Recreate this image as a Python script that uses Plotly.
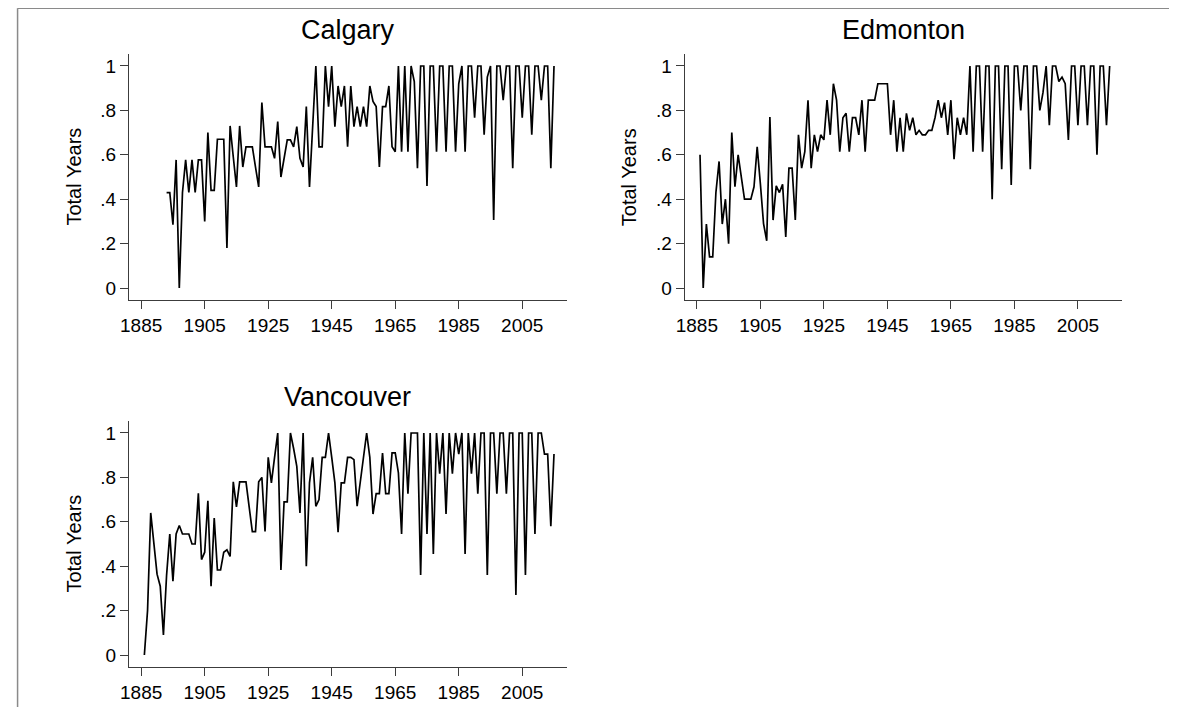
import plotly.graph_objects as go

# page body has an 8px margin, so the figure fills the rest of the window
OX, OY = 8, 8
W, H = 1177 - 2 * OX, 715 - 2 * OY

calgary_years = list(range(1893, 2016))
calgary_vals = [
    0.43, 0.43, 0.285, 0.577, 0.0, 0.43, 0.577, 0.43, 0.577, 0.43,
    0.577, 0.577, 0.3, 0.70, 0.44, 0.44, 0.67, 0.67, 0.67, 0.18,
    0.73, 0.59, 0.455, 0.73, 0.545, 0.636, 0.636, 0.636, 0.545, 0.455,
    0.835, 0.636, 0.636, 0.636, 0.584, 0.75, 0.5, 0.577, 0.667, 0.667,
    0.636, 0.727, 0.584, 0.545, 0.817, 0.455, 0.727, 1.0, 0.636, 0.636,
    1.0, 0.817, 1.0, 0.727, 0.91, 0.817, 0.91, 0.636, 0.91, 0.727,
    0.817, 0.727, 0.817, 0.727, 0.91, 0.84, 0.817, 0.545, 0.817, 0.817,
    0.91, 0.636, 0.614, 1.0, 0.614, 1.0, 0.614, 1.0, 0.93, 0.54,
    1.0, 1.0, 0.46, 1.0, 1.0, 0.614, 1.0, 1.0, 0.614, 1.0,
    1.0, 0.614, 0.92, 1.0, 0.614, 1.0, 1.0, 0.767, 1.0, 1.0,
    0.69, 0.95, 1.0, 0.306, 1.0, 1.0, 0.846, 1.0, 1.0, 0.54,
    1.0, 1.0, 0.767, 1.0, 1.0, 0.69, 1.0, 1.0, 0.846, 1.0,
    1.0, 0.54, 1.0,
]

edmonton_years = list(range(1886, 2016))
edmonton_vals = [
    0.60, 0.0, 0.288, 0.14, 0.14, 0.43, 0.57, 0.288, 0.40, 0.2,
    0.70, 0.456, 0.6, 0.5, 0.4, 0.4, 0.4, 0.456, 0.636, 0.47,
    0.29, 0.213, 0.77, 0.306, 0.46, 0.43, 0.467, 0.23, 0.54, 0.54,
    0.306, 0.69, 0.54, 0.614, 0.846, 0.54, 0.69, 0.614, 0.69, 0.667,
    0.846, 0.69, 0.92, 0.846, 0.614, 0.767, 0.787, 0.614, 0.767, 0.767,
    0.69, 0.846, 0.614, 0.846, 0.846, 0.846, 0.92, 0.92, 0.92, 0.92,
    0.69, 0.846, 0.614, 0.767, 0.614, 0.787, 0.71, 0.767, 0.69, 0.71,
    0.69, 0.69, 0.71, 0.71, 0.767, 0.846, 0.767, 0.835, 0.69, 0.846,
    0.58, 0.767, 0.69, 0.767, 0.69, 1.0, 0.614, 1.0, 1.0, 0.614,
    1.0, 1.0, 0.40, 1.0, 1.0, 0.535, 1.0, 1.0, 0.464, 1.0,
    1.0, 0.8, 1.0, 1.0, 0.535, 1.0, 1.0, 0.8, 0.88, 1.0,
    0.733, 1.0, 1.0, 0.93, 0.95, 0.92, 0.667, 1.0, 1.0, 0.733,
    1.0, 1.0, 0.733, 1.0, 1.0, 0.6, 1.0, 1.0, 0.733, 1.0,
]

vancouver_years = list(range(1886, 2016))
vancouver_vals = [
    0.0, 0.2, 0.64, 0.5, 0.364, 0.31, 0.09, 0.36, 0.545, 0.333,
    0.545, 0.583, 0.545, 0.545, 0.545, 0.5, 0.5, 0.728, 0.43, 0.463,
    0.695, 0.31, 0.617, 0.383, 0.383, 0.463, 0.474, 0.444, 0.78, 0.667,
    0.78, 0.78, 0.78, 0.667, 0.556, 0.556, 0.78, 0.8, 0.556, 0.89,
    0.775, 0.89, 1.0, 0.383, 0.69, 0.69, 1.0, 0.93, 0.85, 0.64,
    1.0, 0.4, 0.775, 0.89, 0.67, 0.7, 0.89, 0.89, 1.0, 0.89,
    0.775, 0.553, 0.775, 0.775, 0.89, 0.89, 0.88, 0.67, 0.775, 0.89,
    1.0, 0.89, 0.635, 0.727, 0.727, 0.91, 0.727, 0.727, 0.91, 0.91,
    0.82, 0.545, 1.0, 0.727, 1.0, 1.0, 1.0, 0.36, 1.0, 0.545,
    1.0, 0.455, 1.0, 0.817, 1.0, 0.635, 1.0, 0.817, 1.0, 0.905,
    1.0, 0.455, 1.0, 0.817, 1.0, 0.727, 1.0, 1.0, 0.36, 1.0,
    1.0, 0.727, 1.0, 1.0, 0.727, 1.0, 1.0, 0.27, 1.0, 1.0,
    0.36, 1.0, 1.0, 0.545, 1.0, 1.0, 0.905, 0.905, 0.58, 0.905,
]

panel_titles = ["Calgary", "Edmonton", "Vancouver"]
y_title = "Total Years"
x_tickvals = [1885, 1905, 1925, 1945, 1965, 1985, 2005]
y_tickvals = [0, 0.2, 0.4, 0.6, 0.8, 1]
y_ticktext = ["0", ".2", ".4", ".6", ".8", "1"]

FONT = "Liberation Sans, Arial, sans-serif"


def fx(px):
    return (px - OX) / W


def fy(py):
    return 1 - (py - OY) / H


# panel plot regions in window pixels: (left, right, top, bottom)
panels = [
    (121, 562, 54, 300),
    (681, 1122, 54, 300),
    (121, 562, 421, 667),
]
series = [
    (calgary_years, calgary_vals),
    (edmonton_years, edmonton_vals),
    (vancouver_years, vancouver_vals),
]

fig = go.Figure()
annotations = []
layout_axes = {}
for i, ((l, r, t, b), (yrs, vals), title) in enumerate(zip(panels, series, panel_titles)):
    n = "" if i == 0 else str(i + 1)
    fig.add_trace(go.Scatter(
        x=yrs, y=vals, mode="lines",
        line=dict(color="#000000", width=1.7),
        xaxis="x" + n, yaxis="y" + n, showlegend=False,
        hoverinfo="x+y",
    ))
    layout_axes["xaxis" + n] = dict(
        domain=[fx(l), fx(r)], anchor="y" + n,
        range=[1881.2, 2019.0], tickmode="array", tickvals=x_tickvals,
        ticks="outside", ticklen=8, tickwidth=1.2, tickcolor="#3c3c3c",
        showline=True, linecolor="#3c3c3c", linewidth=1.3,
        showgrid=False, zeroline=False,
        tickfont=dict(family=FONT, size=19, color="#000000"),
    )
    layout_axes["yaxis" + n] = dict(
        domain=[fy(b), fy(t)], anchor="x" + n,
        range=[-0.054, 1.054], tickmode="array", tickvals=y_tickvals,
        ticktext=y_ticktext,
        ticks="outside", ticklen=8, tickwidth=1.2, tickcolor="#3c3c3c",
        showline=True, linecolor="#3c3c3c", linewidth=1.3,
        showgrid=False, zeroline=False,
        tickfont=dict(family=FONT, size=19, color="#000000"),
    )
    annotations.append(dict(
        text=title, x=fx((l + r) / 2), y=fy(t - 24),
        xref="paper", yref="paper", xanchor="center", yanchor="middle",
        showarrow=False, font=dict(family=FONT, size=27, color="#000000"),
    ))
    annotations.append(dict(
        text=y_title, x=fx(l - 56), y=fy((t + b) / 2),
        xref="paper", yref="paper", xanchor="center", yanchor="middle",
        textangle=-90, showarrow=False,
        font=dict(family=FONT, size=20, color="#000000"),
    ))

frame = dict(color="#8a8a8a", width=1.5)
fig.update_layout(
    width=W, height=H,
    margin=dict(l=0, r=0, t=0, b=0),
    paper_bgcolor="#ffffff", plot_bgcolor="#ffffff",
    annotations=annotations,
    shapes=[
        dict(type="line", xref="paper", yref="paper",
             x0=0.0005, x1=1.0, y0=0.9995, y1=0.9995, line=frame, layer="below"),
        dict(type="line", xref="paper", yref="paper",
             x0=0.0005, x1=0.0005, y0=0.0, y1=0.9995, line=frame, layer="below"),
    ],
    **layout_axes,
)

fig.write_html("out.html")
